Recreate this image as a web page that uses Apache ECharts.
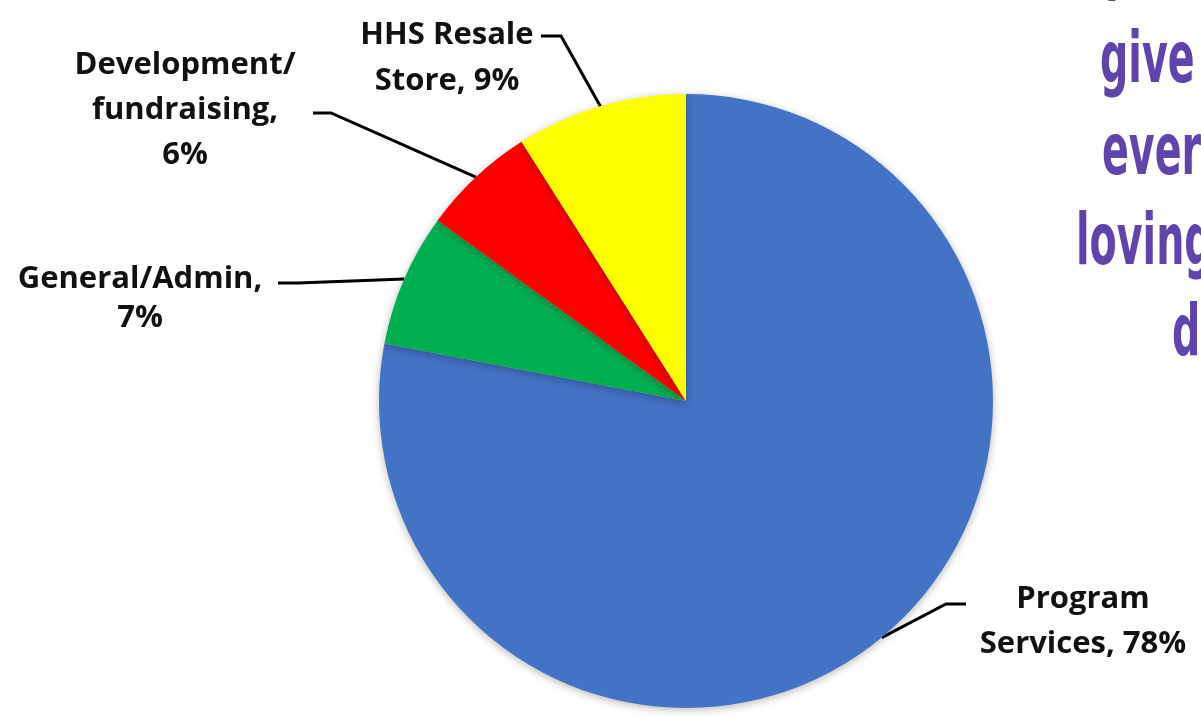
<!DOCTYPE html>
<html>
<head>
<meta charset="utf-8">
<script src="https://cdn.jsdelivr.net/npm/echarts@6/dist/echarts.min.js"></script>
<style>
  html, body { margin: 0; padding: 0; background: #ffffff; }
  #chart { width: 1201px; height: 719px; }
</style>
</head>
<body>
<div id="chart"></div>
<script>
// ---- data ----
var categories = ['Program\nServices', 'General/Admin', 'Development/\nfundraising', 'HHS Resale\nStore'];
var values = [78, 7, 6, 9];
var valueOnNewLine = [false, true, true, false];
var sliceColors = ['#4472C4', '#00B050', '#FF0000', '#FFFF00'];
var sideText = ['p', 'give', 'ever', 'loving', 'd'];

// ---- layout (positions / styles only) ----
var pieCenter = [686, 401];
var pieRadius = 307;
// label centre and leader-line end for each slice (page px)
var labelPlace = [
  { c: [1083, 622], end: [966, 604], knee: -20, lh: 45 },
  { c: [140, 299],  end: [278, 283], knee: 20,  lh: 39 },
  { c: [185, 110],  end: [313, 113], knee: 18,  lh: 45 },
  { c: [447, 58],   end: [541, 36],  knee: 20,  lh: 46 }
];
var sideTextPlace = [[1105, 3], [1100, 99], [1102, 191], [1076, 281], [1172, 372]];

var chart = echarts.init(document.getElementById('chart'), null, { renderer: 'canvas' });

var seriesData = categories.map(function (n, i) {
  return {
    name: n, value: values[i],
    itemStyle: { color: sliceColors[i] },
    label: { lineHeight: labelPlace[i].lh }
  };
});

var graphics = sideText.map(function (t, i) {
  return {
    type: 'text',
    x: sideTextPlace[i][0],
    y: sideTextPlace[i][1],
    scaleX: 0.55,
    silent: true,
    style: {
      text: t,
      fill: '#6143AD',
      font: 'bold 72px "DejaVu Sans", sans-serif',
      textAlign: 'left',
      textVerticalAlign: 'bottom'
    }
  };
});

chart.setOption({
  backgroundColor: '#ffffff',
  animation: false,
  series: [{
    type: 'pie',
    center: pieCenter,
    radius: pieRadius,
    startAngle: 90,
    clockwise: true,
    avoidLabelOverlap: false,
    data: seriesData,
    itemStyle: {
      borderWidth: 0,
      shadowBlur: 8,
      shadowOffsetY: 2,
      shadowColor: 'rgba(0,0,0,0.28)'
    },
    label: {
      show: true,
      position: 'outside',
      formatter: function (p) {
        return p.name + ',' + (valueOnNewLine[p.dataIndex] ? '\n' : ' ') + p.value + '%';
      },
      fontFamily: '"Open Sans", "Noto Sans", sans-serif',
      fontWeight: 'bold',
      fontSize: 31,
      lineHeight: 45,
      color: '#111111',
      align: 'center'
    },
    labelLine: {
      show: true,
      length: 20,
      length2: 20,
      lineStyle: { color: '#000000', width: 3 }
    },
    labelLayout: function (params) {
      var pl = labelPlace[params.dataIndex];
      var pts = params.labelLinePoints;
      var anchor = pts ? pts[0] : pieCenter;
      return {
        x: pl.c[0],
        y: pl.c[1],
        align: 'center',
        verticalAlign: 'middle',
        labelLinePoints: [
          anchor,
          [pl.end[0] + pl.knee, pl.end[1]],
          pl.end
        ]
      };
    }
  }],
  graphic: graphics
});
</script>
</body>
</html>
